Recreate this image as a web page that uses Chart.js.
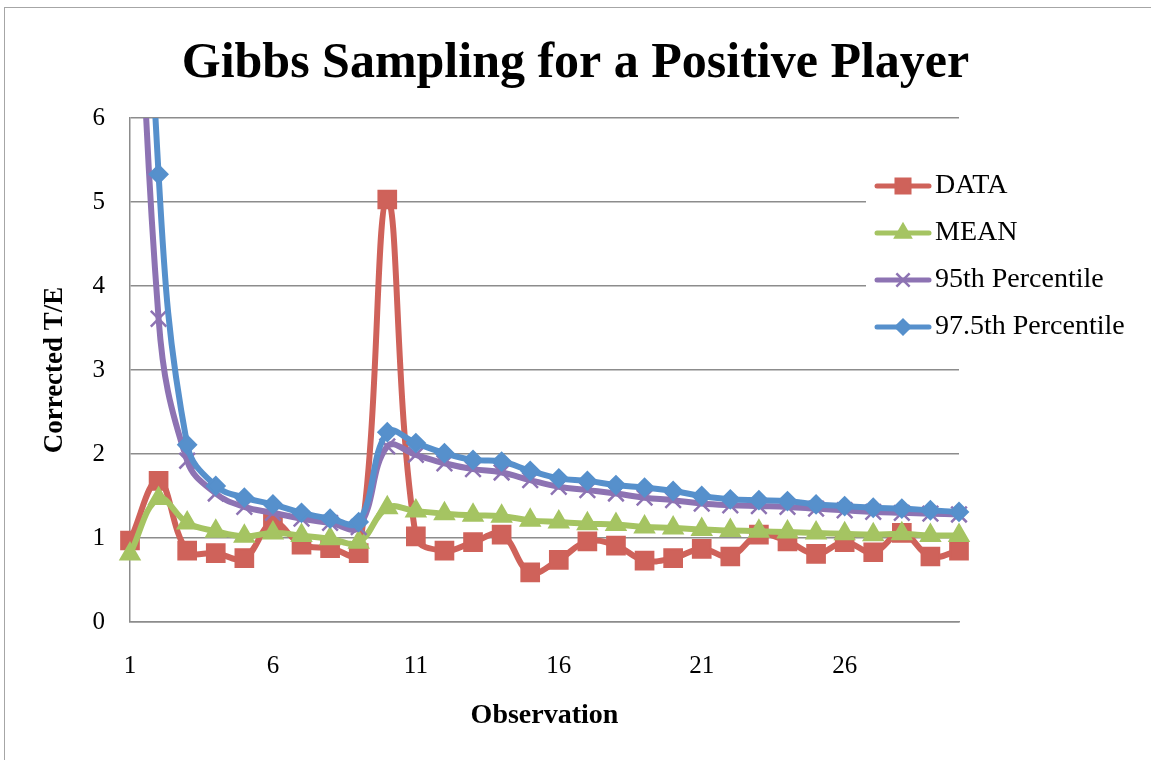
<!DOCTYPE html>
<html>
<head>
<meta charset="utf-8">
<script src="https://cdn.jsdelivr.net/npm/chart.js@4.4.1/dist/chart.umd.min.js"></script>
<style>
html,body{margin:0;padding:0;background:#fff;overflow:hidden}
#wrap{position:relative;width:1151px;height:760px}
</style>
</head>
<body>
<div id="wrap"><canvas id="c" width="1151" height="760"></canvas></div>
<script>
// ---- data ----
const categories = ['1','2','3','4','5','6','7','8','9','10','11','12','13','14','15','16','17','18','19','20','21','22','23','24','25','26','27','28','29','30'];
const xTickLabels = ['1','6','11','16','21','26'];
const yTickValues = [0,1,2,3,4,5,6];
const seriesNames = ['DATA','MEAN','95th Percentile','97.5th Percentile'];
const dataValues = [0.97,1.68,0.85,0.82,0.76,1.18,0.92,0.88,0.82,5.03,1.02,0.85,0.95,1.04,0.59,0.74,0.96,0.91,0.73,0.76,0.87,0.78,1.04,0.96,0.81,0.95,0.83,1.06,0.78,0.85];
const meanValues = [0.81,1.47,1.18,1.08,1.02,1.06,1.03,0.99,0.95,1.36,1.32,1.29,1.27,1.26,1.21,1.19,1.17,1.16,1.13,1.12,1.10,1.09,1.08,1.07,1.06,1.05,1.04,1.05,1.03,1.03];
const p95Values = [11.0,3.61,1.92,1.53,1.37,1.30,1.23,1.18,1.13,2.09,1.99,1.89,1.82,1.78,1.69,1.61,1.57,1.53,1.48,1.45,1.41,1.39,1.38,1.37,1.35,1.33,1.31,1.30,1.29,1.28];
const p975Values = [14.0,5.33,2.11,1.62,1.48,1.40,1.30,1.23,1.19,2.26,2.13,2.01,1.93,1.91,1.80,1.71,1.68,1.63,1.60,1.56,1.50,1.46,1.45,1.44,1.40,1.38,1.36,1.35,1.33,1.31];

// ---- styles ----
const SERIF = "'Liberation Serif', 'Times New Roman', serif";
const RED = '#CF625A', GREEN = '#A5C462', PURPLE = '#8D73B3', BLUE = '#5690CC';
const GRID = '#8c8c8c';

const markers = [
  {style:'rect', r:12.5, bw:2},
  {style:'triangle', r:11, bw:2},
  {style:'crossRot', r:11, bw:2.5},
  {style:'rectRot', r:9, bw:2}
];
const colors = [RED, GREEN, PURPLE, BLUE];
const values = [dataValues, meanValues, p95Values, p975Values];

function drawMarker(g, style, x, y, r, bw) {
  g.lineWidth = bw;
  g.beginPath();
  if (style === 'rect') {
    const s = Math.SQRT1_2 * r;
    g.rect(x - s, y - s, 2 * s, 2 * s);
    g.fill(); g.stroke();
  } else if (style === 'triangle') {
    let a = 0;
    g.moveTo(x + Math.sin(a) * r, y - Math.cos(a) * r);
    a += 2 * Math.PI / 3;
    g.lineTo(x + Math.sin(a) * r, y - Math.cos(a) * r);
    a += 2 * Math.PI / 3;
    g.lineTo(x + Math.sin(a) * r, y - Math.cos(a) * r);
    g.closePath();
    g.fill(); g.stroke();
  } else if (style === 'rectRot') {
    g.moveTo(x - r, y); g.lineTo(x, y - r); g.lineTo(x + r, y); g.lineTo(x, y + r);
    g.closePath();
    g.fill(); g.stroke();
  } else if (style === 'crossRot') {
    const o = Math.SQRT1_2 * r;
    g.moveTo(x - o, y - o); g.lineTo(x + o, y + o);
    g.moveTo(x - o, y + o); g.lineTo(x + o, y - o);
    g.stroke();
  }
}

function legendImage(i) {
  const c = document.createElement('canvas');
  c.width = 58; c.height = 30;
  const g = c.getContext('2d');
  g.strokeStyle = colors[i]; g.fillStyle = colors[i];
  g.lineCap = 'round';
  g.lineWidth = 5;
  g.beginPath(); g.moveTo(3, 15); g.lineTo(55, 15); g.stroke();
  g.lineCap = 'butt';
  drawMarker(g, markers[i].style, 29, 15, markers[i].r * 0.85, markers[i].bw);
  return c;
}
const legendImages = [0,1,2,3].map(legendImage);

const datasets = seriesNames.map((name, i) => ({
  label: name,
  data: values[i],
  borderColor: colors[i],
  backgroundColor: colors[i],
  borderWidth: 6,
  tension: 0.4,
  borderCapStyle: 'round',
  borderJoinStyle: 'round',
  pointStyle: markers[i].style,
  pointRadius: markers[i].r,
  pointHoverRadius: markers[i].r,
  pointBorderWidth: markers[i].bw,
  pointBackgroundColor: colors[i],
  pointBorderColor: colors[i],
  order: 4 - i,
  fill: false
}));

const frame = {
  id: 'frame',
  beforeDraw(chart) {
    const ctx = chart.ctx;
    ctx.save();
    ctx.fillStyle = '#fff';
    ctx.fillRect(0, 0, chart.width, chart.height);
    ctx.strokeStyle = '#a6a6a6';
    ctx.lineWidth = 1;
    ctx.strokeRect(4.5, 7.5, 1300, 900);
    ctx.restore();
  }
};

const legendPlace = {
  id: 'legendPlace',
  afterLayout(chart) {
    const lg = chart.legend;
    if (!lg) return;
    lg.left = 866; lg.right = 1151; lg.top = 153; lg.bottom = 760;
    if (!lg._wrappedDraw) {
      const orig = lg.draw;
      lg.draw = function () {
        const ctx = this.ctx;
        ctx.save();
        ctx.fillStyle = '#fff';
        ctx.fillRect(866, 158, 285, 196);
        ctx.restore();
        return orig.apply(this, arguments);
      };
      lg._wrappedDraw = true;
    }
  }
};

new Chart(document.getElementById('c'), {
  type: 'line',
  data: { labels: categories, datasets },
  plugins: [frame, legendPlace],
  options: {
    responsive: false,
    animation: false,
    devicePixelRatio: 1,
    layout: { padding: 0 },
    events: [],
    plugins: {
      tooltip: { enabled: false },
      title: {
        display: true,
        text: 'Gibbs Sampling for a Positive Player',
        color: '#000',
        font: { family: SERIF, size: 50, weight: 'bold', lineHeight: 1.2 },
        padding: { top: 34, bottom: 24 }
      },
      legend: {
        display: true,
        position: 'right',
        align: 'start',
        maxWidth: 192,
        labels: {
          color: '#000',
          font: { family: SERIF, size: 28 },
          padding: 19,
          usePointStyle: true,
          pointStyleWidth: 36,
          generateLabels(chart) {
            return chart.data.datasets.map((ds, i) => ({
              text: ds.label,
              pointStyle: legendImages[i],
              datasetIndex: i,
              hidden: false,
              lineWidth: 0,
              strokeStyle: 'rgba(0,0,0,0)',
              fillStyle: 'rgba(0,0,0,0)',
              fontColor: '#000'
            }));
          }
        }
      }
    },
    scales: {
      x: {
        type: 'category',
        offset: false,
        grid: { display: false, drawTicks: false },
        border: { display: true, color: GRID, width: 1.5 },
        ticks: {
          autoSkip: false,
          maxRotation: 0,
          minRotation: 0,
          padding: 29,
          color: '#000',
          font: { family: SERIF, size: 25 },
          callback(value, index) {
            const lab = categories[index];
            return xTickLabels.includes(lab) ? lab : '';
          }
        },
        title: {
          display: true,
          text: 'Observation',
          color: '#000',
          font: { family: SERIF, size: 28, weight: 'bold', lineHeight: 1.2 },
          padding: { top: 0, bottom: 27 }
        },
        afterFit(scale) { scale.height = 138; }
      },
      y: {
        min: yTickValues[0],
        max: yTickValues[yTickValues.length - 1],
        grid: { color: GRID, lineWidth: 1.5, drawTicks: false },
        border: { display: true, color: GRID, width: 1.5 },
        ticks: {
          stepSize: 1,
          padding: 25,
          color: '#000',
          font: { family: SERIF, size: 25 },
          callback(v) { return yTickValues.includes(v) ? String(v) : ''; }
        },
        title: {
          display: true,
          text: 'Corrected T/E',
          color: '#000',
          font: { family: SERIF, size: 27, weight: 'bold', lineHeight: 1.2 },
          padding: { top: 39, bottom: 0 }
        },
        afterFit(scale) { scale.width = 130; }
      }
    }
  }
});
</script>
</body>
</html>
